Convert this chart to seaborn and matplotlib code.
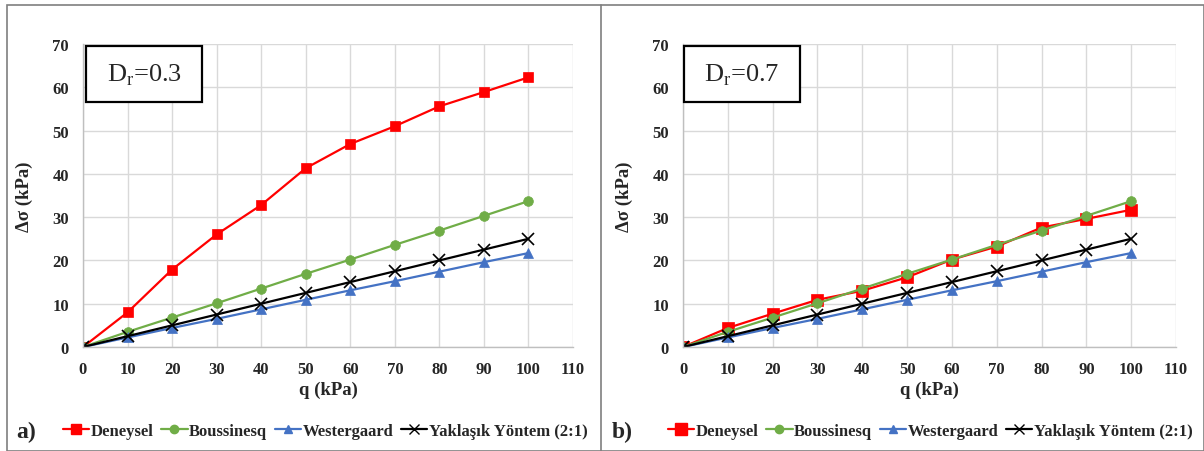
import numpy as np
import pandas as pd
import matplotlib
matplotlib.use("Agg")
import matplotlib.pyplot as plt
import seaborn as sns
from matplotlib.lines import Line2D
from matplotlib.patches import Rectangle

q = [0, 10, 20, 30, 40, 50, 60, 70, 80, 90, 100]
deneysel_a = [0, 8.0, 17.9, 26.0, 32.8, 41.3, 46.9, 51.0, 55.6, 58.9, 62.3]
deneysel_b = [0, 4.4, 7.7, 10.9, 13.0, 16.1, 20.2, 23.2, 27.6, 29.6, 31.7]
boussinesq = [0, 3.5, 6.8, 10.1, 13.5, 16.9, 20.2, 23.6, 26.9, 30.3, 33.7]
westergaard = [0, 2.2, 4.4, 6.5, 8.7, 10.9, 13.1, 15.2, 17.4, 19.6, 21.7]
yaklasik = [0, 2.5, 5.0, 7.5, 10.0, 12.5, 15.0, 17.5, 20.0, 22.5, 25.0]

series_names = ["Deneysel", "Boussinesq", "Westergaard", "Yaklaşık Yöntem (2:1)"]
colors = ["#FF0000", "#70AD47", "#4472C4", "#000000"]
markers = ["s", "o", "^", "x"]
panel_titles = ["D$_\\mathregular{r}$=0.3", "D$_\\mathregular{r}$=0.7"]
panel_letters = ["a)", "b)"]

sns.set_theme(style="white")
plt.rcParams["font.family"] = ["Liberation Serif", "DejaVu Serif"]
plt.rcParams["mathtext.fontset"] = "custom"
plt.rcParams["mathtext.rm"] = "Liberation Serif"

W, H = 1204, 452
fig = plt.figure(figsize=(W / 100, H / 100), dpi=100)

# panel frames
fig.add_artist(Rectangle((7 / W, 0), (W - 7) / W, (H - 6) / H, transform=fig.transFigure,
                         fill=False, edgecolor="#7f7f7f", linewidth=1.2))
fig.add_artist(Line2D([601 / W, 601 / W], [0, (H - 6) / H], transform=fig.transFigure,
                      color="#7f7f7f", linewidth=1.2))

panels = [
    dict(x0=83, x1=573, den=deneysel_a, ms_sq=6.5, center=325, letter_x=16, box=(86, 47, 202, 103)),
    dict(x0=683, x1=1176, den=deneysel_b, ms_sq=8, center=930, letter_x=612, box=(684, 47, 800, 103)),
]
y_top, y_bot = 45, 348

for i, p in enumerate(panels):
    ax = fig.add_axes([p["x0"] / W, 1 - y_bot / H, (p["x1"] - p["x0"]) / W, (y_bot - y_top) / H])
    data = [p["den"], boussinesq, westergaard, yaklasik]
    for name, vals, c, m in zip(series_names, data, colors, markers):
        df = pd.DataFrame({"q": q, "v": vals})
        ms = p["ms_sq"] if m == "s" else (7 if m in ("o", "^") else 8)
        sns.lineplot(data=df, x="q", y="v", ax=ax, color=c, marker=m, markersize=ms,
                     markeredgecolor=c, markeredgewidth=1.2 if m == "x" else 0.5,
                     linewidth=1.6, label=name, legend=False)
    ax.set_xlim(0, 110)
    ax.set_ylim(0, 70)
    ax.set_xticks(range(0, 111, 10))
    ax.set_yticks(range(0, 71, 10))
    ax.grid(True, color="#d9d9d9", linewidth=1)
    ax.set_axisbelow(True)
    for s in ["top", "right"]:
        ax.spines[s].set_visible(False)
    for s in ["left", "bottom"]:
        ax.spines[s].set_color("#bfbfbf")
        ax.spines[s].set_linewidth(1)
    ax.tick_params(axis="both", length=0, labelsize=12)
    ax.tick_params(axis="x", pad=10)
    ax.tick_params(axis="y", pad=10)
    for lab in ax.get_xticklabels() + ax.get_yticklabels():
        lab.set_fontweight("bold")
    ax.set_xlabel("q (kPa)", fontsize=13.5, fontweight="bold", labelpad=3)
    ax.set_ylabel("Δσ (kPa)", fontsize=13.5, fontweight="bold", labelpad=14)

    bx0, by0, bx1, by1 = p["box"]
    fig.add_artist(Rectangle((bx0 / W, 1 - by1 / H), (bx1 - bx0) / W, (by1 - by0) / H,
                             transform=fig.transFigure, facecolor="white",
                             edgecolor="black", linewidth=1.6, zorder=5))
    fig.text((bx0 + bx1) / 2 / W, 1 - (by0 + by1) / 2 / H, panel_titles[i],
             ha="center", va="center", fontsize=19, zorder=6)

    handles = [Line2D([], [], color=c, marker=m,
                      markersize=(p["ms_sq"] if m == "s" else (6 if m in ("o", "^") else 7)),
                      markeredgecolor=c, linewidth=1.6) for c, m in zip(colors, markers)]
    fig.legend(handles, series_names, loc="center", ncol=4,
               bbox_to_anchor=(p["center"] / W, 1 - 432 / H), frameon=False,
               prop=dict(family="Liberation Serif", weight="bold", size=12),
               handlelength=1.6, handletextpad=0.08, columnspacing=0.45,
               borderpad=0, borderaxespad=0)
    fig.text(p["letter_x"] / W, 1 - 432 / H, panel_letters[i], fontsize=17,
             fontweight="bold", ha="left", va="center")

fig.savefig("out.png", dpi=100)
